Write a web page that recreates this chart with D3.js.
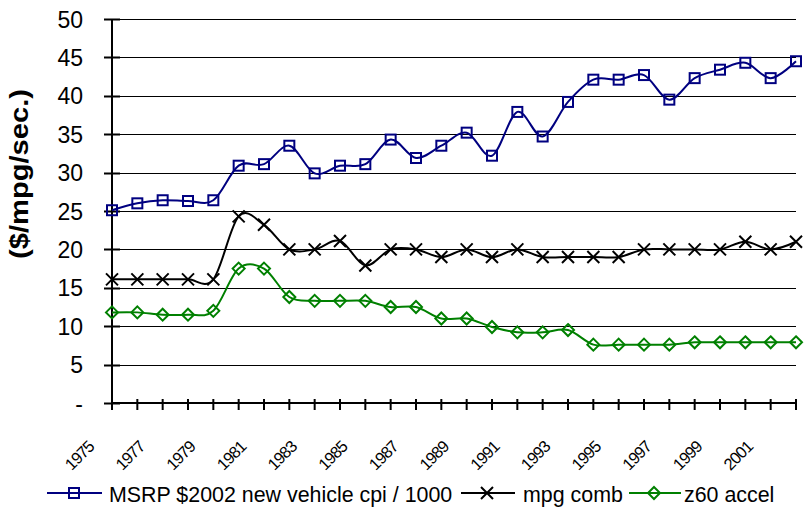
<!DOCTYPE html>
<html>
<head>
<meta charset="utf-8">
<script src="https://cdn.jsdelivr.net/npm/d3@7"></script>
<style>
  html, body { margin: 0; padding: 0; background: #fff; }
  svg { display: block; font-family: "Liberation Sans", Arial, sans-serif; }
</style>
</head>
<body>
<svg id="chart" width="804" height="508"></svg>
<script>
const years = [1975,1976,1977,1978,1979,1980,1981,1982,1983,1984,1985,1986,1987,1988,1989,1990,1991,1992,1993,1994,1995,1996,1997,1998,1999,2000,2001,2002];
const msrp = [25.1,26.0,26.4,26.3,26.4,30.9,31.1,33.5,29.9,30.9,31.1,34.3,31.9,33.5,35.2,32.2,37.9,34.7,39.2,42.1,42.1,42.7,39.5,42.3,43.4,44.3,42.3,44.5];
const mpg = [16.1,16.1,16.1,16.1,16.1,24.3,23.2,20.0,20.0,21.1,17.9,20.0,20.0,19.0,20.0,19.0,20.0,19.0,19.0,19.0,19.0,20.0,20.0,20.0,20.0,21.0,20.0,21.0];
const z60 = [11.8,11.8,11.5,11.5,12.0,17.5,17.5,13.8,13.3,13.3,13.3,12.5,12.5,11.0,11.0,9.9,9.2,9.2,9.5,7.6,7.6,7.6,7.6,7.9,7.9,7.9,7.9,7.9];
const yTicks = [0,5,10,15,20,25,30,35,40,45,50];
const yTickLabels = ["-","5","10","15","20","25","30","35","40","45","50"];
const xLabelYears = [1975,1977,1979,1981,1983,1985,1987,1989,1991,1993,1995,1997,1999,2001];
const seriesNames = ["MSRP $2002 new vehicle cpi / 1000","mpg comb","z60 accel"];
const seriesColors = ["#000080","#000000","#008000"];
const seriesMarkers = ["square","cross","diamond"];
const yTitle = "($/mpg/sec.)";

(function () {
const svg = d3.select("#chart");
const pLeft = 112, pRight = 796, pTop = 19, pBottom = 403;

const x = d3.scalePoint().domain(years).range([pLeft, pRight]);
const y = d3.scaleLinear().domain([0, 50]).range([pBottom, pTop]);

svg.append("g").selectAll("line").data(yTicks.filter(d => d > 0)).join("line")
  .attr("x1", pLeft).attr("x2", pRight)
  .attr("y1", d => Math.round(y(d)) + 0.5).attr("y2", d => Math.round(y(d)) + 0.5)
  .attr("stroke", "#000").attr("stroke-width", 1);

const yAxis = svg.append("g");
yAxis.append("line").attr("x1", pLeft).attr("x2", pLeft).attr("y1", pTop).attr("y2", pBottom + 1)
  .attr("stroke", "#000").attr("stroke-width", 2);
yAxis.selectAll("line.tick").data(yTicks).join("line").attr("class","tick")
  .attr("x1", pLeft - 8).attr("x2", pLeft + 8)
  .attr("y1", d => Math.round(y(d)) + 0.5).attr("y2", d => Math.round(y(d)) + 0.5)
  .attr("stroke", "#000").attr("stroke-width", 2);
yAxis.selectAll("text").data(yTicks).join("text")
  .attr("x", 83).attr("y", d => y(d) + 8.5)
  .attr("text-anchor", "end").attr("font-size", 23).attr("fill", "#000")
  .text((d, i) => yTickLabels[i]);

const xAxis = svg.append("g");
xAxis.append("line").attr("x1", pLeft).attr("x2", pRight).attr("y1", pBottom).attr("y2", pBottom)
  .attr("stroke", "#000").attr("stroke-width", 2);
xAxis.selectAll("line.tick").data(years).join("line").attr("class","tick")
  .attr("x1", d => x(d)).attr("x2", d => x(d)).attr("y1", pBottom - 4).attr("y2", pBottom + 7)
  .attr("stroke", "#000").attr("stroke-width", 2);
xAxis.selectAll("text.xlab").data(xLabelYears).join("text").attr("class", "xlab")
  .attr("transform", d => "translate(" + (x(d) - 17) + "," + (pBottom + 45) + ") rotate(-45)")
  .attr("text-anchor", "end").attr("font-size", 16.5).attr("fill", "#000")
  .attr("letter-spacing", "-1px")
  .text(d => String(d));

svg.append("text")
  .attr("transform", "translate(28,174) rotate(-90)")
  .attr("text-anchor", "middle").attr("font-size", 26).attr("font-weight", "bold")
  .attr("textLength", 170).attr("lengthAdjust", "spacingAndGlyphs")
  .text(yTitle);

function drawMarker(g, type, color) {
  if (type === "square") {
    g.append("rect").attr("x", -5).attr("y", -5).attr("width", 10).attr("height", 10)
      .attr("fill", "none").attr("stroke", color).attr("stroke-width", 2);
  } else if (type === "cross") {
    g.append("path").attr("d", "M-6,-6L6,6M-6,6L6,-6")
      .attr("fill", "none").attr("stroke", color).attr("stroke-width", 2);
  } else {
    g.append("path").attr("d", "M0,-6L6,0L0,6L-6,0Z")
      .attr("fill", "none").attr("stroke", color).attr("stroke-width", 2);
  }
}

const allSeries = [msrp, mpg, z60];
const line = d3.line().x((d, i) => x(years[i])).y(d => y(d)).curve(d3.curveCatmullRom.alpha(0));

allSeries.forEach((vals, si) => {
  const g = svg.append("g");
  g.append("path").attr("d", line(vals)).attr("fill", "none")
    .attr("stroke", seriesColors[si]).attr("stroke-width", 2);
  vals.forEach((v, i) => {
    const mg = g.append("g").attr("transform", "translate(" + x(years[i]) + "," + y(v) + ")");
    drawMarker(mg, seriesMarkers[si], seriesColors[si]);
  });
});

const legendItems = [
  {lx1: 47, lx2: 102, mx: 74, tx: 109},
  {lx1: 461, lx2: 515, mx: 487, tx: 523},
  {lx1: 629, lx2: 681, mx: 654, tx: 684}
];
const ly = 493;
legendItems.forEach((it, si) => {
  const g = svg.append("g");
  g.append("line").attr("x1", it.lx1).attr("x2", it.lx2).attr("y1", ly).attr("y2", ly)
    .attr("stroke", seriesColors[si]).attr("stroke-width", 2);
  const mg = g.append("g").attr("transform", "translate(" + it.mx + "," + ly + ")");
  drawMarker(mg, seriesMarkers[si], seriesColors[si]);
  g.append("text").attr("x", it.tx).attr("y", ly + 8.5).attr("font-size", 21.4).attr("fill", "#000")
    .text(seriesNames[si]);
});
})();
</script>
</body>
</html>
